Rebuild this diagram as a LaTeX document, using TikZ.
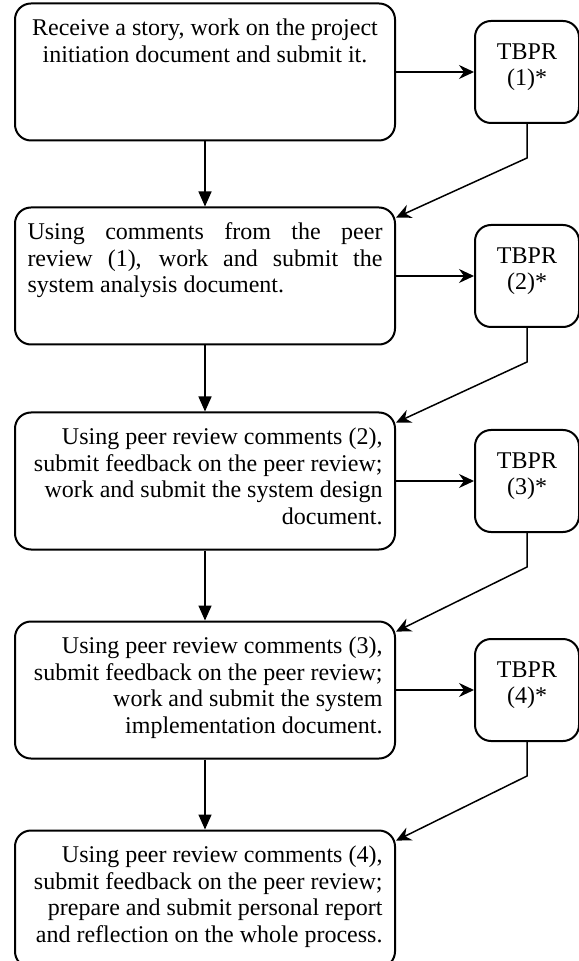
\documentclass[tikz,border=0pt]{standalone}
\usepackage{fontspec}
\setmainfont{Liberation Serif}
\usetikzlibrary{arrows.meta, positioning}

% text of a stage box: alignment, then the lines
\newcommand{\stagetext}[2]{\parbox[c][55.1pt][t]{177.5pt}{#1\strut #2}}
\newcommand{\tbprtext}[1]{\parbox[c][31.6pt][t]{52pt}{\centering\strut TBPR\\(#1)*}}

\begin{document}
\begin{tikzpicture}[
  stage/.style={draw, line width=1pt, rounded corners=8pt, inner xsep=6.25pt, inner ysep=6.7pt},
  tbpr/.style={draw, line width=1pt, rounded corners=8pt, inner xsep=0pt, inner ysep=9.7pt},
  down/.style={-{Triangle[length=7.5pt, width=6.5pt]}, line width=0.75pt},
  line/.style={-{Stealth[length=7.5pt, width=7pt, inset=2.5pt]}, line width=0.75pt},
  font=\fontsize{12}{13.3}\selectfont
]
\useasboundingbox (0,0) rectangle (289pt,-480.5pt);

\node[stage] (init) at (102.5pt,-36pt)
  {\stagetext{\centering}{Receive a story, work on the project\\ initiation document and submit it.}};
\node[stage, below=32.5pt of init] (analysis)
  {\stagetext{}{Using comments from the peer\linebreak review (1), work and submit the\linebreak system analysis document.}};
\node[stage, below=33pt of analysis] (design)
  {\stagetext{\raggedleft}{Using peer review comments (2),\\ submit feedback on the peer review;\\ work and submit the system design\\ document.}};
\node[stage, below=35pt of design] (impl)
  {\stagetext{\raggedleft}{Using peer review comments (3),\\ submit feedback on the peer review;\\ work and submit the system\\ implementation document.}};
\node[stage, below=35pt of impl] (report)
  {\stagetext{\raggedleft}{Using peer review comments (4),\\ submit feedback on the peer review;\\ prepare and submit personal report\\ and reflection on the whole process.}};

% peer review rounds
\node[tbpr, right=39pt of init] (tb1) {\tbprtext{1}};
\node[tbpr, right=39pt of analysis] (tb2) {\tbprtext{2}};
\node[tbpr, right=39pt of design] (tb3) {\tbprtext{3}};
\node[tbpr, right=39pt of impl] (tb4) {\tbprtext{4}};

\draw[down] (init) -- (analysis);
\draw[down] (analysis) -- (design);
\draw[down] (design) -- (impl);
\draw[down] (impl) -- (report);

\draw[line] (init) -- (tb1);
\draw[line] (analysis) -- (tb2);
\draw[line] (design) -- (tb3);
\draw[line] (impl) -- (tb4);

\draw[line] (tb1.south) -- ++(0,-17pt) -- (analysis.17);
\draw[line] (tb2.south) -- ++(0,-17pt) -- (design.17);
\draw[line] (tb3.south) -- ++(0,-17pt) -- (impl.17);
\draw[line] (tb4.south) -- ++(0,-17pt) -- (report.17);
\end{tikzpicture}
\end{document}
